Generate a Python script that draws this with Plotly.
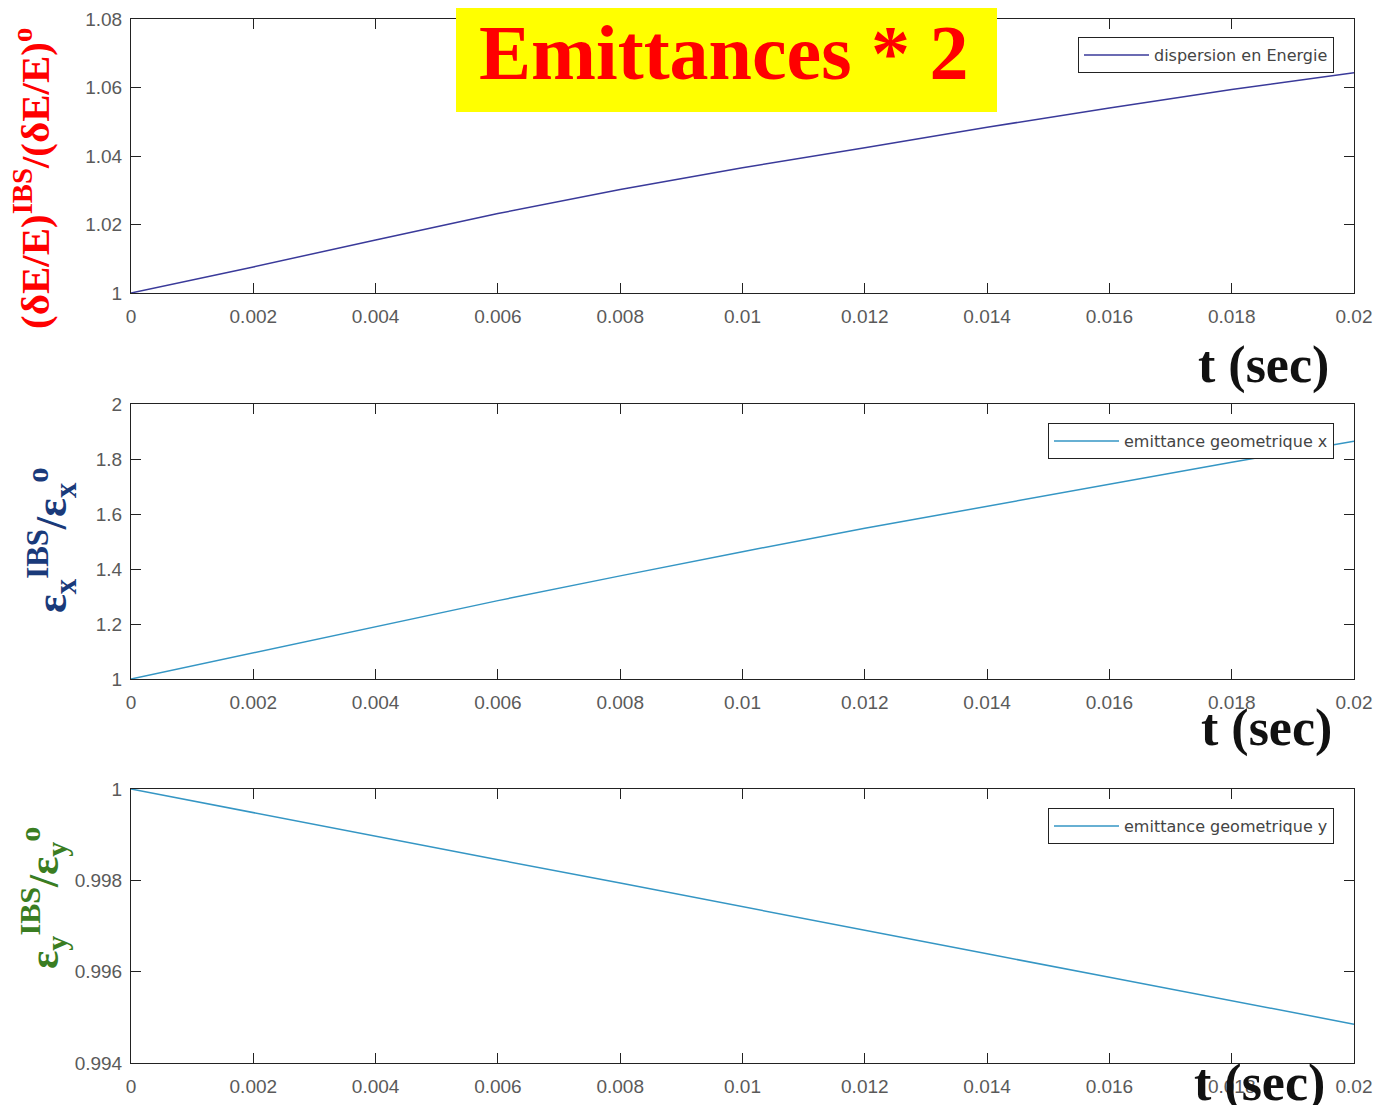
import plotly.graph_objects as go
from plotly.subplots import make_subplots

# temps (s)
t = [0, 0.002, 0.004, 0.006, 0.008, 0.01, 0.012, 0.014, 0.016, 0.018, 0.02]

# rapports IBS / initial
dispersion_E = [1.0, 1.0076, 1.0155, 1.0232, 1.0302, 1.0366, 1.0424, 1.0484, 1.0540, 1.0594, 1.0643]
emit_x = [1.0, 1.095, 1.19, 1.285, 1.375, 1.463, 1.548, 1.628, 1.708, 1.788, 1.865]
emit_y = [1.0, 0.99948, 0.99897, 0.99845, 0.99794, 0.99742, 0.99691, 0.99639, 0.99588, 0.99536, 0.99485]

x_ticks = [0, 0.002, 0.004, 0.006, 0.008, 0.01, 0.012, 0.014, 0.016, 0.018, 0.02]
x_ticktext = ["0", "0.002", "0.004", "0.006", "0.008", "0.01", "0.012", "0.014", "0.016", "0.018", "0.02"]
y1_ticks = [1, 1.02, 1.04, 1.06, 1.08]
y1_text = ["1", "1.02", "1.04", "1.06", "1.08"]
y2_ticks = [1, 1.2, 1.4, 1.6, 1.8, 2]
y2_text = ["1", "1.2", "1.4", "1.6", "1.8", "2"]
y3_ticks = [0.994, 0.996, 0.998, 1]
y3_text = ["0.994", "0.996", "0.998", "1"]

W, H = 1381, 1105
OFF = 8  # marge de la page autour du graphique

def px_x(v):
    return (v - OFF) / W
def px_y(v):
    return 1 - (v - OFF) / H

fig = make_subplots(rows=3, cols=1)

fig.add_trace(go.Scatter(x=t, y=dispersion_E, mode="lines", name="dispersion en Energie",
                         line=dict(color="#3a3a9a", width=1.5), legend="legend", showlegend=True),
              row=1, col=1)
fig.add_trace(go.Scatter(x=t, y=emit_x, mode="lines", name="emittance geometrique x",
                         line=dict(color="#3596c4", width=1.5), legend="legend2", showlegend=True),
              row=2, col=1)
fig.add_trace(go.Scatter(x=t, y=emit_y, mode="lines", name="emittance geometrique y",
                         line=dict(color="#3596c4", width=1.5), legend="legend3", showlegend=True),
              row=3, col=1)

tick_font = dict(family="Liberation Sans", size=19, color="#5a5a5a")
axis_common = dict(showline=True, linecolor="#222222", linewidth=1, mirror="ticks",
                   ticks="inside", ticklen=10, tickcolor="#222222", showgrid=False,
                   zeroline=False, tickfont=tick_font, automargin=False)

# positions des axes (style MATLAB)
doms_y = [(px_y(293), px_y(19)), (px_y(679), px_y(404)), (px_y(1063), px_y(789))]
ranges_y = [(1, 1.08), (1, 2), (0.994, 1)]
ticks_y = [(y1_ticks, y1_text), (y2_ticks, y2_text), (y3_ticks, y3_text)]
for i in range(3):
    n = "" if i == 0 else str(i + 1)
    fig.layout["xaxis" + n].update(domain=[px_x(131), px_x(1354)], range=[0, 0.02],
                                   tickvals=x_ticks, ticktext=x_ticktext,
                                   ticklabelstandoff=6, **axis_common)
    fig.layout["yaxis" + n].update(domain=list(doms_y[i]), range=list(ranges_y[i]),
                                   tickvals=ticks_y[i][0], ticktext=ticks_y[i][1],
                                   ticklabelstandoff=4, **axis_common)

legend_common = dict(xanchor="right", yanchor="top", bgcolor="white", bordercolor="#222222",
                     borderwidth=1, font=dict(family="DejaVu Sans", size=16, color="#444444"),
                     itemwidth=65, tracegroupgap=0)
fig.update_layout(
    showlegend=True,
    legend=dict(x=px_x(1334), y=px_y(37), **legend_common),
    legend2=dict(x=px_x(1334), y=px_y(423), **legend_common),
    legend3=dict(x=px_x(1334), y=px_y(808), **legend_common),
)

serif = "Liberation Serif"

def label(text, cx, cy, size, color, angle=0):
    fig.add_annotation(text=text, xref="paper", yref="paper", x=px_x(cx), y=px_y(cy),
                       xanchor="center", yanchor="middle", textangle=angle, showarrow=False,
                       font=dict(family=serif, size=size, color=color))

# encadré du titre
fig.add_shape(type="rect", xref="paper", yref="paper", x0=px_x(456), x1=px_x(997),
              y0=px_y(112), y1=px_y(3), fillcolor="#ffff00", line=dict(width=0), layer="above")
label("<b>Emittances * 2</b>", 724, 53, 78, "#ff0000")

# étiquettes des axes y
label("<b>(δE/E)<sup>IBS</sup>/(δE/E)<sup>o</sup></b>", 32, 179, 41, "#ff0000", -90)
label("<b>ε<sub>x</sub><sup>IBS</sup>/ε<sub>x</sub><sup>o</sup></b>", 52, 540, 44, "#1a3a7a", -90)
label("<b>ε<sub>y</sub><sup>IBS</sup>/ε<sub>y</sub><sup>o</sup></b>", 43, 898, 43, "#3a7d22", -90)

# étiquettes t (sec)
for cx, cy in [(1263, 365), (1266, 728), (1259, 1083)]:
    label("<b>t (sec)</b>", cx, cy, 52, "#111111")

fig.update_layout(width=W, height=H, margin=dict(l=0, r=0, t=0, b=0, autoexpand=False),
                  paper_bgcolor="white", plot_bgcolor="white")

fig.write_html("out.html")
